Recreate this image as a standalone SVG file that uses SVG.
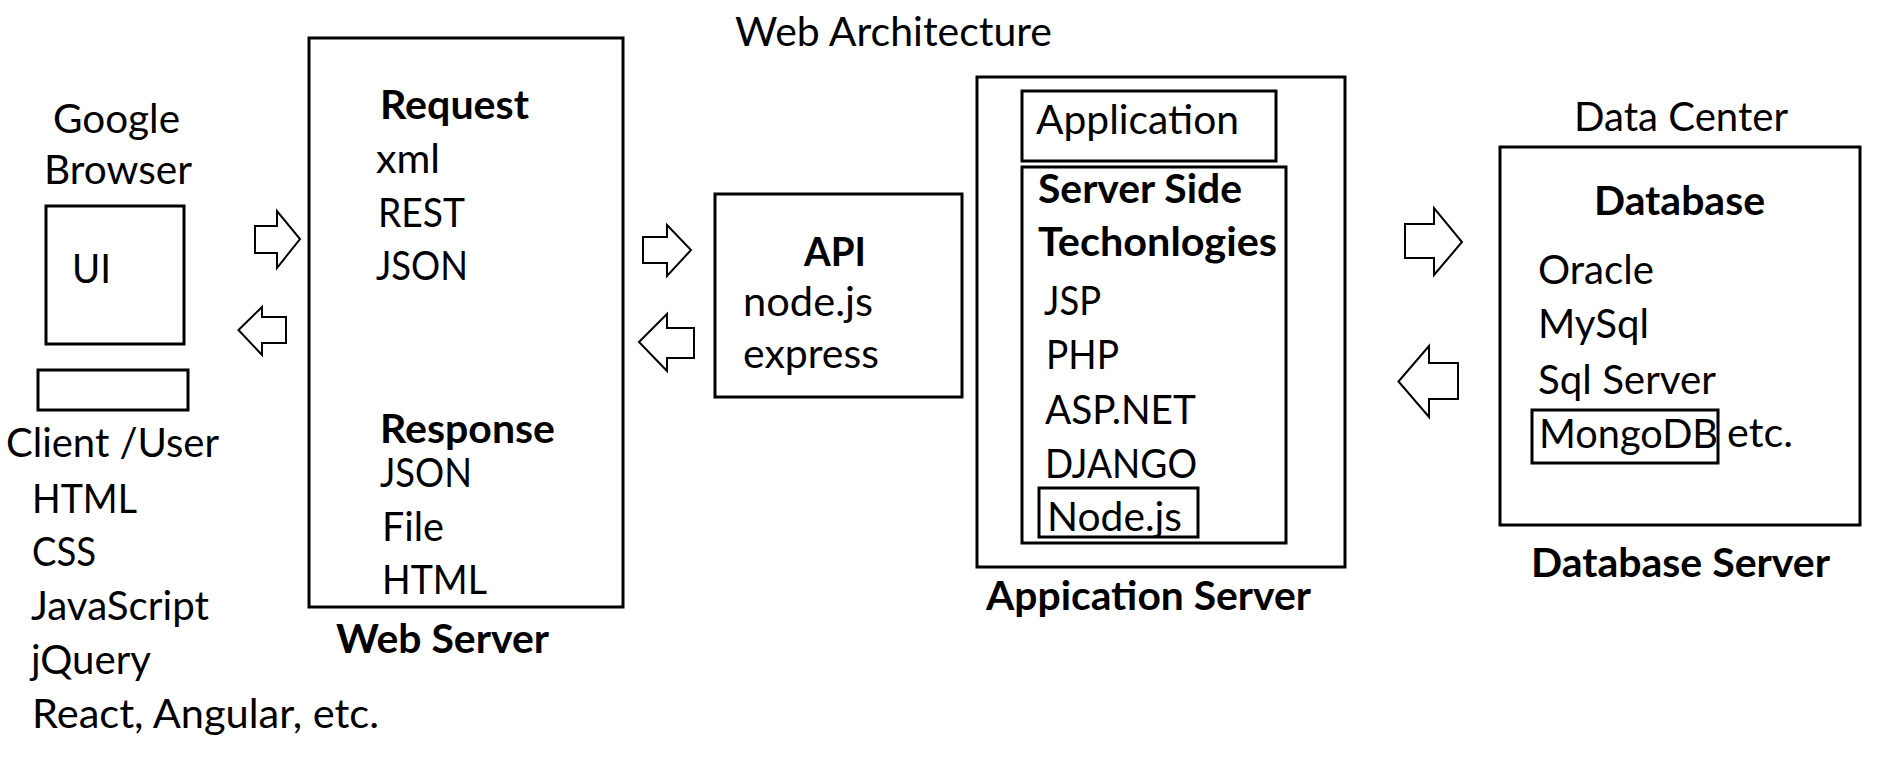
<svg xmlns="http://www.w3.org/2000/svg" width="1902" height="758" viewBox="0 0 1902 758">
<style>
text{font-family:Lato,"Open Sans","Liberation Sans",sans-serif;font-size:40px;fill:#000}
.b{font-weight:700}
.box{fill:none;stroke:#000;stroke-width:3}
.arr{fill:#fff;stroke:#000;stroke-width:2;stroke-linejoin:miter}
</style>
<rect width="1902" height="758" fill="#fff"/>
<text x="735" y="46" textLength="317" lengthAdjust="spacingAndGlyphs">Web Architecture</text>
<g id="client">
<text x="53" y="133" textLength="127" lengthAdjust="spacingAndGlyphs">Google</text>
<text x="44" y="184" textLength="148" lengthAdjust="spacingAndGlyphs">Browser</text>
<rect class="box" x="46" y="206" width="138" height="138"/>
<text x="72" y="283" textLength="39" lengthAdjust="spacingAndGlyphs">UI</text>
<rect class="box" x="38" y="370" width="150" height="40"/>
<text x="6" y="457" textLength="213" lengthAdjust="spacingAndGlyphs">Client /User</text>
<text x="32" y="513" textLength="105" lengthAdjust="spacingAndGlyphs">HTML</text>
<text x="32" y="566" textLength="64" lengthAdjust="spacingAndGlyphs">CSS</text>
<text x="31" y="620" textLength="178" lengthAdjust="spacingAndGlyphs">JavaScript</text>
<text x="31" y="674" textLength="120" lengthAdjust="spacingAndGlyphs">jQuery</text>
<text x="32" y="728" textLength="347" lengthAdjust="spacingAndGlyphs">React, Angular, etc.</text>
</g>
<g id="web-server">
<rect class="box" x="309" y="38" width="314" height="569"/>
<text class="b" x="380" y="119" textLength="149" lengthAdjust="spacingAndGlyphs">Request</text>
<text x="376" y="173" textLength="64" lengthAdjust="spacingAndGlyphs">xml</text>
<text x="378" y="227" textLength="87" lengthAdjust="spacingAndGlyphs">REST</text>
<text x="376" y="280" textLength="92" lengthAdjust="spacingAndGlyphs">JSON</text>
<text class="b" x="380" y="443" textLength="175" lengthAdjust="spacingAndGlyphs">Response</text>
<text x="380" y="487" textLength="92" lengthAdjust="spacingAndGlyphs">JSON</text>
<text x="382" y="541" textLength="62" lengthAdjust="spacingAndGlyphs">File</text>
<text x="382" y="594" textLength="105" lengthAdjust="spacingAndGlyphs">HTML</text>
<text class="b" x="336" y="653" textLength="213" lengthAdjust="spacingAndGlyphs">Web Server</text>
</g>
<g id="api">
<rect class="box" x="715" y="194" width="247" height="203"/>
<text class="b" x="804" y="266" textLength="62" lengthAdjust="spacingAndGlyphs">API</text>
<text x="743" y="316" textLength="130" lengthAdjust="spacingAndGlyphs">node.js</text>
<text x="743" y="368" textLength="136" lengthAdjust="spacingAndGlyphs">express</text>
</g>
<g id="application-server">
<rect class="box" x="977" y="77" width="368" height="490"/>
<rect class="box" x="1022" y="91" width="254" height="70"/>
<text x="1036" y="134" textLength="203" lengthAdjust="spacingAndGlyphs">Application</text>
<rect class="box" x="1022" y="167" width="264" height="376"/>
<text class="b" x="1038" y="203" textLength="204" lengthAdjust="spacingAndGlyphs">Server Side</text>
<text class="b" x="1038" y="256" textLength="239" lengthAdjust="spacingAndGlyphs">Techonlogies</text>
<text x="1044" y="315" textLength="57" lengthAdjust="spacingAndGlyphs">JSP</text>
<text x="1046" y="369" textLength="73" lengthAdjust="spacingAndGlyphs">PHP</text>
<text x="1045" y="424" textLength="151" lengthAdjust="spacingAndGlyphs">ASP.NET</text>
<text x="1045" y="478" textLength="152" lengthAdjust="spacingAndGlyphs">DJANGO</text>
<rect class="box" x="1039" y="488" width="159" height="49"/>
<text x="1047" y="531" textLength="135" lengthAdjust="spacingAndGlyphs">Node.js</text>
<text class="b" x="986" y="610" textLength="325" lengthAdjust="spacingAndGlyphs">Appication Server</text>
</g>
<g id="database-server">
<text x="1574" y="131" textLength="214" lengthAdjust="spacingAndGlyphs">Data Center</text>
<rect class="box" x="1500" y="147" width="360" height="378"/>
<text class="b" x="1594" y="215" textLength="171" lengthAdjust="spacingAndGlyphs">Database</text>
<text x="1538" y="284" textLength="116" lengthAdjust="spacingAndGlyphs">Oracle</text>
<text x="1538" y="338" textLength="111" lengthAdjust="spacingAndGlyphs">MySql</text>
<text x="1538" y="394" textLength="178" lengthAdjust="spacingAndGlyphs">Sql Server</text>
<rect class="box" x="1532" y="410" width="186" height="53"/>
<text x="1539" y="448" textLength="179" lengthAdjust="spacingAndGlyphs">MongoDB</text>
<text x="1727" y="447" textLength="66" lengthAdjust="spacingAndGlyphs">etc.</text>
<text class="b" x="1531" y="577" textLength="299" lengthAdjust="spacingAndGlyphs">Database Server</text>
</g>
<g id="connectors">
<polygon class="arr" points="255,226 277,226 277,211 300,239 277,268 277,253 255,253"/>
<polygon class="arr" points="238.5,330 262,307 262,317 286,317 286,343 262,343 262,355"/>
<polygon class="arr" points="643,237 667,237 667,225 691,250 667,276 667,263 643,263"/>
<polygon class="arr" points="639,342 667,314 667,328 694,328 694,358 667,358 667,371"/>
<polygon class="arr" points="1405,224 1434,224 1434,208 1462,242 1434,275 1434,258 1405,258"/>
<polygon class="arr" points="1398.5,381.5 1429,346 1429,363 1458,363 1458,399 1429,399 1429,417"/>
</g>
</svg>
